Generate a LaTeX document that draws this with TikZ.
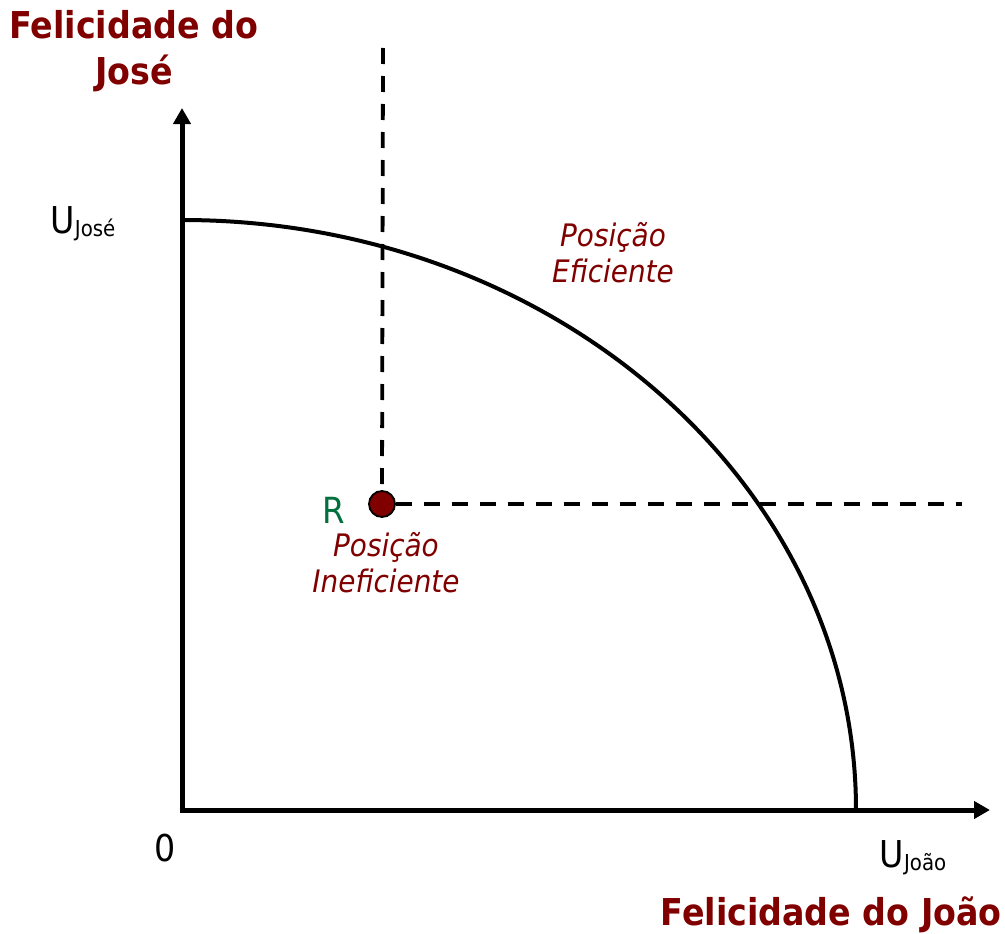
\documentclass[tikz,border=0pt]{standalone}
\usepackage{fontspec}
\setmainfont{DejaVu Sans Condensed}
\usetikzlibrary{arrows.meta}
\definecolor{dred}{RGB}{128,0,0}
\definecolor{rgreen}{RGB}{0,112,60}
\tikzset{
  axis/.style={line width=5pt,-{Triangle[length=16pt,width=17pt]}},
  guide/.style={line width=3.8pt,dash pattern=on 16pt off 12pt},
  title/.style={text=dred,font=\fontsize{37}{46}\bfseries\selectfont,align=center,inner sep=0pt},
  note/.style={text=dred,font=\fontsize{31}{36}\itshape\selectfont,align=center,inner sep=0pt},
  tick/.style={font=\fontsize{37}{37}\selectfont,inner sep=0pt},
}
\newcommand{\ulab}[1]{U\raisebox{-3pt}{\fontsize{22}{22}\selectfont #1}}
\begin{document}
\begin{tikzpicture}[x=1pt,y=-1pt]
\useasboundingbox (0,0) rectangle (1005,934);
\coordinate (O) at (182,810);
\coordinate (ytop) at (182,108);
\coordinate (xend) at (990,810);
\coordinate (vtop) at (383,48);
\coordinate (hend) at (962,504);
% frontier (quarter ellipse)
\draw[line width=4pt] (182,220) arc[start angle=90,end angle=0,x radius=674,y radius=-590];
% guides
\node[circle,draw=black,line width=1.8pt,fill=dred,minimum size=26pt,inner sep=0pt] (R) at (382,504) {};
\draw[guide] (vtop) -- (R.north);
\draw[guide] (R.east) -- (hend);
% axes
\draw[axis] ([yshift=2.5pt]O) -- (ytop);
\draw[axis] ([xshift=-2.5pt]O) -- (xend);
% labels
\node[title] (tj) at (134,51) {Felicidade do\\José};
\node[title,anchor=east] (tjo) at (1002,915) {Felicidade do João};
\node[tick] (uj) at (83,224) {\ulab{José}};
\node[tick] (u0) at (165,848) {0};
\node[tick] (ujo) at (913,858) {\ulab{João}};
\node[font=\fontsize{36}{36}\selectfont,text=rgreen,inner sep=0pt] (rl) at (334,510) {R};
\node[note] (ef) at (613,253) {Posição\\Eficiente};
\node[note] (inef) at (386,563) {Posição\\Ineficiente};
\end{tikzpicture}
\end{document}
